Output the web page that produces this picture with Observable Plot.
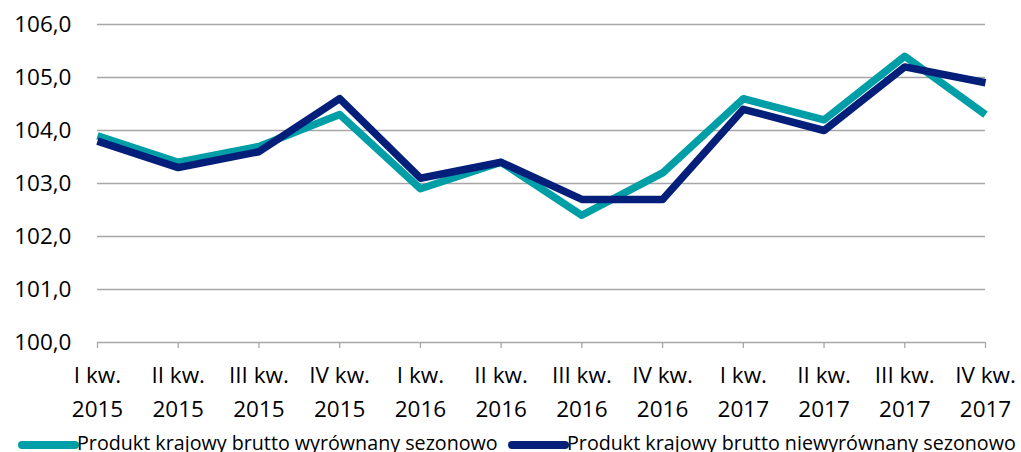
<!DOCTYPE html>
<html><head><meta charset="utf-8">
<script src="https://cdn.jsdelivr.net/npm/d3@7"></script>
<script src="https://cdn.jsdelivr.net/npm/@observablehq/plot@0.6"></script>
<style>
html,body{margin:0;padding:0;background:#fff;overflow:hidden}
body{font-family:"Open Sans",sans-serif;color:#000}
#legend{display:block}
</style></head><body>
<div id="chart"></div>
<div id="legend"></div>
<script>
const quarters = ["I kw.\n2015","II kw.\n2015","III kw.\n2015","IV kw.\n2015",
  "I kw.\n2016","II kw.\n2016","III kw.\n2016","IV kw.\n2016",
  "I kw.\n2017","II kw.\n2017","III kw.\n2017","IV kw.\n2017"];
const seriesNames = ["Produkt krajowy brutto wyrównany sezonowo","Produkt krajowy brutto niewyrównany sezonowo"];
const adjusted =   [103.9,103.4,103.7,104.3,102.9,103.4,102.4,103.2,104.6,104.2,105.4,104.3];
const unadjusted = [103.8,103.3,103.6,104.6,103.1,103.4,102.7,102.7,104.4,104.0,105.2,104.9];
const yTicks = [100,101,102,103,104,105,106];
const colors = ["#009EA6","#031F7A"];

const data = [
  ...quarters.map((q,i)=>({q, v: adjusted[i], s: seriesNames[0]})),
  ...quarters.map((q,i)=>({q, v: unadjusted[i], s: seriesNames[1]}))
];
const fmt = d => d.toFixed(1).replace(".", ",");

const chart = Plot.plot({
  width: 1021,
  height: 430,
  marginLeft: 97,
  marginRight: 36,
  marginTop: 24,
  marginBottom: 88,
  style: {fontFamily: '"Open Sans", sans-serif', fontSize: "22px", color: "#000", background: "#fff"},
  x: {type: "point", domain: quarters, padding: 0, round: false, label: null},
  y: {domain: [100,106], ticks: yTicks, label: null},
  color: {domain: seriesNames, range: colors},
  marks: [
    Plot.gridY(yTicks, {stroke: "#A6A6A6", strokeOpacity: 1, strokeWidth: 1.3}),
    Plot.axisX({tickSize: 6, stroke: "#A6A6A6", strokeWidth: 1.3, tickFormat: () => "", label: null}),
    Plot.axisX({tickSize: 0, tickPadding: 16, fontSize: 22.5, lineHeight: 1.52, fill: "#000", label: null}),
    Plot.axisY(yTicks, {tickSize: 0, tickPadding: 26, tickFormat: fmt, fontSize: 22.5, fill: "#000", label: null}),
    Plot.lineY(data, {x: "q", y: "v", stroke: "s", z: "s", strokeWidth: 7.5, strokeLinecap: "butt", strokeLinejoin: "round"})
  ]
});
document.getElementById("chart").appendChild(chart);

// legend below the chart
const legend = d3.select("#legend").append("svg")
  .attr("width", 1021).attr("height", 22)
  .style("display","block")
  .style("font-family", '"Open Sans", sans-serif');
const legendX = [18, 508];
seriesNames.forEach((name, i) => {
  const g = legend.append("g").attr("transform", `translate(${legendX[i]},0)`);
  g.append("line").attr("x1", 4).attr("x2", 57).attr("y1", 15).attr("y2", 15)
    .attr("stroke", colors[i]).attr("stroke-width", 8).attr("stroke-linecap", "round");
  g.append("text").attr("x", 59).attr("y", 20).attr("font-size", 19.7).attr("fill", "#000").text(name);
});
</script>
</body></html>
